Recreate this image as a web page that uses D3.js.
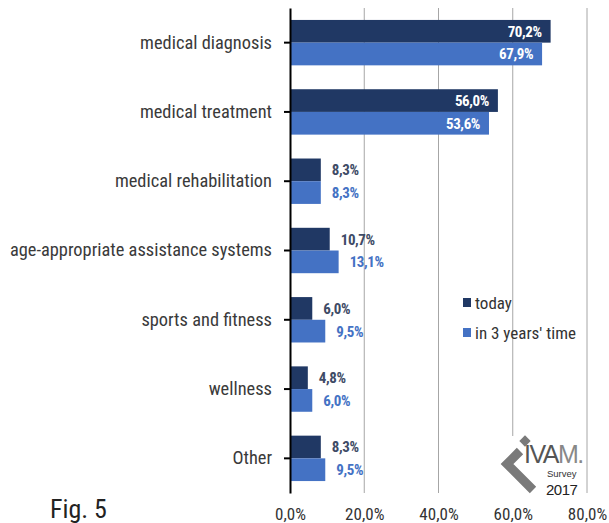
<!DOCTYPE html>
<html>
<head>
<meta charset="utf-8">
<script src="https://cdn.jsdelivr.net/npm/d3@7"></script>
<style>
  body { margin: 0; background: #fff; }
  text { font-family: "Liberation Sans Narrow", "Roboto Condensed", "DejaVu Sans Condensed", sans-serif; }
</style>
</head>
<body>
<div id="chart"></div>
<script>
const categories = ["medical diagnosis", "medical treatment", "medical rehabilitation",
  "age-appropriate assistance systems", "sports and fitness", "wellness", "Other"];
const today = [70.2, 56.0, 8.3, 10.7, 6.0, 4.8, 8.3];
const future = [67.9, 53.6, 8.3, 13.1, 9.5, 6.0, 9.5];
const seriesNames = ["today", "in 3 years' time"];
const xTicks = [0, 20, 40, 60, 80];

const W = 609, H = 523;
const x0 = 290, x1 = 587, yTop = 8, yBot = 493;
const colors = ["#203864", "#4472C4"];
const outLabelColors = ["#3e4b66", "#4472C4"];

let svg = d3.select("#chart").append("svg")
  .attr("width", W).attr("height", H);

let x = d3.scaleLinear().domain([0, 80]).range([x0, x1]);
let y = d3.scaleBand().domain(categories).range([yTop, yBot]);
let sub = d3.scaleBand().domain([0, 1]).range([-22.7, 22.7]);

// gridlines
svg.append("g").selectAll("line")
  .data(xTicks.filter(d => d > 0))
  .join("line")
  .attr("x1", d => x(d)).attr("x2", d => x(d))
  .attr("y1", yTop).attr("y2", yBot)
  .attr("stroke", "#a6a6a6").attr("stroke-width", 1);

// bars
let rows = categories.map((c, i) => ({cat: c, vals: [today[i], future[i]]}));
let bars = [];
rows.forEach(r => r.vals.forEach((v, s) => bars.push({cat: r.cat, v: v, s: s})));

let yc = d => y(d.cat) + y.bandwidth() / 2;

svg.append("g").selectAll("rect")
  .data(bars)
  .join("rect")
  .attr("x", x0)
  .attr("y", d => yc(d) + sub(d.s))
  .attr("width", d => x(d.v) - x0)
  .attr("height", sub.bandwidth())
  .attr("fill", d => colors[d.s]);

// value labels
let fmt = v => v.toFixed(1).replace(".", ",") + "%";
svg.append("g").selectAll("text")
  .data(bars)
  .join("text")
  .attr("x", d => d.v > 40 ? x(d.v) - 9 : x(d.v) + 11)
  .attr("y", d => yc(d) + sub(d.s) + sub.bandwidth() / 2)
  .attr("dy", "0.36em")
  .attr("text-anchor", d => d.v > 40 ? "end" : "start")
  .attr("font-size", 15)
  .attr("font-weight", "bold")
  .attr("letter-spacing", -0.4)
  .attr("fill", d => d.v > 40 ? "#fff" : outLabelColors[d.s])
  .text(d => fmt(d.v));

// y axis
let yAxis = svg.append("g")
  .attr("transform", "translate(" + x0 + ",0)")
  .call(d3.axisLeft(y).tickSize(6).tickSizeOuter(0).tickPadding(12));
yAxis.select(".domain").attr("stroke", "#000").attr("stroke-width", 2);
yAxis.selectAll(".tick line").attr("stroke", "#000").attr("stroke-width", 2);
yAxis.selectAll(".tick text")
  .attr("font-size", 18.4)
  .attr("fill", "#3a3a3a")
  .attr("font-family", null);

// x tick labels
let xAxis = svg.append("g")
  .attr("transform", "translate(0," + yBot + ")")
  .call(d3.axisBottom(x).tickValues(xTicks).tickSize(0).tickPadding(15)
    .tickFormat(d => d.toFixed(1).replace(".", ",") + "%"));
xAxis.select(".domain").remove();
xAxis.selectAll(".tick text")
  .attr("font-size", 17)
  .attr("fill", "#333")
  .attr("font-family", null);

// legend
let legend = svg.append("g").attr("transform", "translate(463,298)");
legend.selectAll("rect")
  .data(seriesNames)
  .join("rect")
  .attr("x", 0).attr("y", (d, i) => i * 30)
  .attr("width", 8).attr("height", 9)
  .attr("fill", (d, i) => colors[i]);
legend.selectAll("text")
  .data(seriesNames)
  .join("text")
  .attr("x", 12).attr("y", (d, i) => i * 30 + 4.5)
  .attr("dy", "0.36em")
  .attr("font-size", 17)
  .attr("fill", "#333")
  .text(d => d);

// logo
let logo = svg.append("g");
logo.append("rect")
  .attr("x", 497).attr("y", 436).attr("width", 82).attr("height", 62)
  .attr("fill", "#fff");
logo.append("polyline")
  .attr("points", "520,451 507,464 533,490")
  .attr("fill", "none").attr("stroke", "#7a7a7a")
  .attr("stroke-width", 9).attr("stroke-linejoin", "miter");
logo.append("rect")
  .attr("x", 521).attr("y", 437).attr("width", 8).attr("height", 8)
  .attr("transform", "rotate(45 525 441)")
  .attr("fill", "#7a7a7a");
logo.append("text")
  .attr("x", 524).attr("y", 463)
  .style("font-family", "'Liberation Sans', Arial, sans-serif")
  .attr("font-size", 25)
  .attr("letter-spacing", -1.5)
  .attr("fill", "#555")
  .html('IVA<tspan fill="#888">M.</tspan>');
logo.append("text")
  .attr("x", 547).attr("y", 477)
  .style("font-family", "'Liberation Sans', Arial, sans-serif")
  .attr("font-size", 9.5).attr("fill", "#333")
  .text("Survey");
logo.append("text")
  .attr("x", 546).attr("y", 495)
  .style("font-family", "'Liberation Sans', Arial, sans-serif")
  .attr("font-size", 15).attr("letter-spacing", -0.5).attr("fill", "#222")
  .text("2017");

// figure caption
svg.append("text")
  .attr("x", 50).attr("y", 518)
  .attr("font-size", 26)
  .attr("fill", "#222")
  .text("Fig. 5");
</script>
</body>
</html>
